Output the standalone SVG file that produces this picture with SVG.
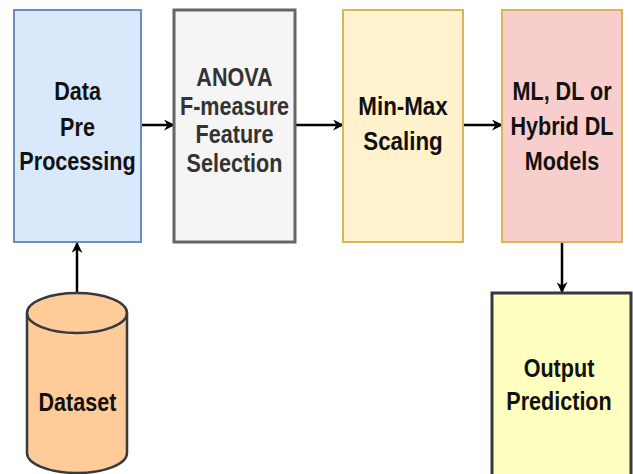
<svg xmlns="http://www.w3.org/2000/svg" width="633" height="474" viewBox="0 0 633 474">
  <defs>
    <marker id="arrow" viewBox="0 0 10 10" refX="9" refY="5" markerWidth="4.4" markerHeight="4.4" orient="auto" markerUnits="strokeWidth">
      <path d="M0,0 L10,5 L0,10 L3,5 z" fill="#000"/>
    </marker>
  </defs>
  <style>
    .lbl { font-family: "Liberation Sans", Arial, sans-serif; font-weight: bold; font-size: 26px; text-anchor: middle; fill: #111; }
    .grey { fill: #333; }
    .edge { stroke: #000; stroke-width: 2.5; fill: none; marker-end: url(#arrow); }
  </style>
  <rect width="633" height="474" fill="#fff"/>

  <g id="connectors">
    <line class="edge" x1="141" y1="125" x2="174" y2="125"/>
    <line class="edge" x1="295" y1="125" x2="343" y2="125"/>
    <line class="edge" x1="463" y1="125" x2="502" y2="125"/>
    <line class="edge" x1="562" y1="242" x2="562" y2="292"/>
    <line class="edge" x1="77" y1="293" x2="77" y2="243"/>
  </g>

  <g id="preprocessing">
    <rect x="14" y="10" width="127" height="232" fill="#dae8fc" stroke="#6c8ebf" stroke-width="2"/>
    <g transform="translate(77.5,0) scale(0.83,1)">
      <text class="lbl" x="0" y="100">Data</text>
      <text class="lbl" x="0" y="136">Pre</text>
      <text class="lbl" x="0" y="170">Processing</text>
    </g>
  </g>

  <g id="anova">
    <rect x="174" y="10" width="121" height="232" fill="#f5f5f5" stroke="#666" stroke-width="3"/>
    <g transform="translate(234.5,0) scale(0.83,1)">
      <text class="lbl grey" x="0" y="86">ANOVA</text>
      <text class="lbl grey" x="0" y="115">F-measure</text>
      <text class="lbl grey" x="0" y="143">Feature</text>
      <text class="lbl grey" x="0" y="172">Selection</text>
    </g>
  </g>

  <g id="scaling">
    <rect x="343" y="10" width="120" height="232" fill="#fff2cc" stroke="#d6b656" stroke-width="2"/>
    <g transform="translate(403,0) scale(0.86,1)">
      <text class="lbl" x="0" y="115">Min-Max</text>
      <text class="lbl" x="0" y="150">Scaling</text>
    </g>
  </g>

  <g id="models">
    <rect x="502" y="10" width="120" height="232" fill="#f8cecc" stroke="#d6b656" stroke-width="2"/>
    <g transform="translate(562,0) scale(0.83,1)">
      <text class="lbl" x="0" y="100">ML, DL or</text>
      <text class="lbl" x="0" y="135">Hybrid DL</text>
      <text class="lbl" x="0" y="170">Models</text>
    </g>
  </g>

  <g id="output">
    <rect x="492" y="293" width="139" height="190" fill="#ffffc0" stroke="#36393d" stroke-width="3"/>
    <g transform="translate(559,0) scale(0.83,1)">
      <text class="lbl" x="0" y="377">Output</text>
      <text class="lbl" x="0" y="410">Prediction</text>
    </g>
  </g>

  <g id="dataset">
    <path d="M27,313 a50,20 0 0 1 100,0 v140 a50,20 0 0 1 -100,0 z" fill="#ffcc99" stroke="#36393d" stroke-width="2.5"/>
    <path d="M27,313 a50,20 0 0 0 100,0" fill="none" stroke="#36393d" stroke-width="2.5"/>
    <g transform="translate(77.5,0) scale(0.83,1)">
      <text class="lbl" x="0" y="411">Dataset</text>
    </g>
  </g>
</svg>
